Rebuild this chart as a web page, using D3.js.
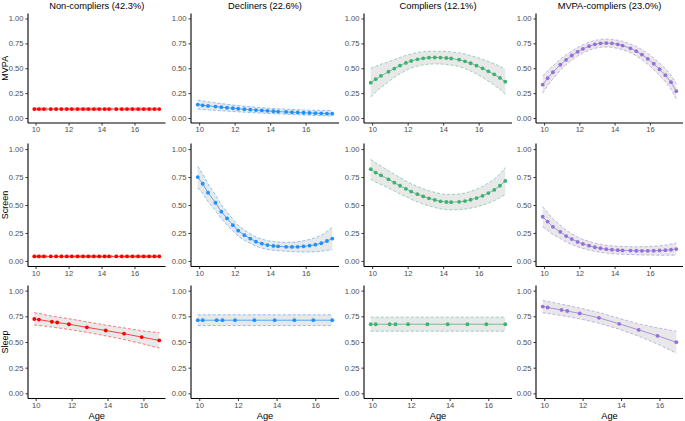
<!DOCTYPE html>
<html><head><meta charset="utf-8">
<script src="https://cdn.jsdelivr.net/npm/d3@7"></script>
<style>body{margin:0;background:#fff;} svg{display:block;font-family:"Liberation Sans",Arial,sans-serif;}</style>
</head><body><svg id="chart" width="685" height="421"></svg>
<script>
const groups = ["Non-compliers (42.3%)", "Decliners (22.6%)", "Compliers (12.1%)", "MVPA-compliers (23.0%)"];
const outcomes = ["MVPA", "Screen", "Sleep"];
const colors = ["#FF0000", "#1E90FF", "#3CB371", "#9370DB"];
const yTicks = [0, 0.25, 0.5, 0.75, 1];
const xTicks = [10, 12, 14, 16];

const agesDense = [9.92,10.2,10.5,10.92,11.25,11.57,11.9,12.2,12.55,12.88,13.2,13.53,13.85,14.18,14.45,14.9,15.23,15.55,15.88,16.22,16.55,16.88,17.2,17.5];
const agesSleep = [9.92,10.18,10.9,11.2,11.85,12.85,13.9,14.92,15.9,16.88];

// MVPA
const nonMVPA   = [0.09,0.09,0.09,0.09,0.09,0.09,0.09,0.09,0.09,0.09,0.09,0.09,0.09,0.09,0.09,0.09,0.09,0.09,0.09,0.09,0.09,0.09,0.09,0.09];
const nonMVPALo = [0.08,0.08,0.08,0.08,0.08,0.08,0.08,0.08,0.08,0.08,0.08,0.08,0.08,0.08,0.08,0.08,0.08,0.08,0.08,0.08,0.08,0.08,0.08,0.08];
const nonMVPAHi = [0.10,0.10,0.10,0.10,0.10,0.10,0.10,0.10,0.10,0.10,0.10,0.10,0.10,0.10,0.10,0.10,0.10,0.10,0.10,0.10,0.10,0.10,0.10,0.10];
const decMVPA   = [0.135,0.128,0.122,0.115,0.109,0.103,0.098,0.093,0.088,0.084,0.080,0.076,0.072,0.068,0.065,0.061,0.058,0.056,0.053,0.051,0.049,0.047,0.045,0.044];
const decMVPALo = [0.09,0.086,0.082,0.077,0.073,0.069,0.065,0.062,0.058,0.055,0.052,0.049,0.046,0.043,0.041,0.038,0.035,0.033,0.031,0.028,0.026,0.024,0.022,0.02];
const decMVPAHi = [0.18,0.171,0.163,0.153,0.145,0.138,0.131,0.125,0.119,0.114,0.109,0.104,0.1,0.096,0.093,0.089,0.086,0.084,0.081,0.079,0.078,0.076,0.075,0.075];
const comMVPA   = [0.355,0.39,0.424,0.465,0.497,0.527,0.553,0.573,0.59,0.6,0.606,0.608,0.607,0.603,0.598,0.586,0.57,0.55,0.526,0.499,0.469,0.438,0.403,0.365];
const comMVPALo = [0.21,0.26,0.307,0.365,0.407,0.445,0.477,0.502,0.522,0.534,0.541,0.544,0.543,0.538,0.532,0.517,0.497,0.472,0.442,0.408,0.37,0.331,0.287,0.24];
const comMVPAHi = [0.5,0.52,0.541,0.565,0.587,0.609,0.629,0.644,0.658,0.666,0.671,0.672,0.671,0.668,0.664,0.655,0.643,0.628,0.61,0.59,0.568,0.545,0.519,0.49];
const mvcMVPA   = [0.335,0.40,0.46,0.535,0.585,0.628,0.665,0.695,0.722,0.74,0.75,0.753,0.75,0.74,0.728,0.7,0.672,0.637,0.595,0.545,0.49,0.43,0.36,0.27];
const mvcMVPALo = [0.25,0.325,0.394,0.479,0.535,0.582,0.622,0.654,0.682,0.70,0.71,0.713,0.71,0.699,0.686,0.656,0.625,0.587,0.541,0.487,0.428,0.364,0.289,0.193];
const mvcMVPAHi = [0.42,0.475,0.526,0.591,0.635,0.674,0.708,0.736,0.762,0.78,0.79,0.793,0.79,0.781,0.77,0.744,0.719,0.687,0.649,0.603,0.552,0.496,0.431,0.347];

// Screen
const nonScreen   = [0.04,0.04,0.04,0.04,0.04,0.04,0.04,0.04,0.04,0.04,0.04,0.04,0.04,0.04,0.04,0.04,0.04,0.04,0.04,0.04,0.04,0.04,0.04,0.04];
const nonScreenLo = [0.033,0.033,0.033,0.033,0.033,0.033,0.033,0.033,0.033,0.033,0.033,0.033,0.033,0.033,0.033,0.033,0.033,0.033,0.033,0.033,0.033,0.033,0.033,0.033];
const nonScreenHi = [0.047,0.047,0.047,0.047,0.047,0.047,0.047,0.047,0.047,0.047,0.047,0.047,0.047,0.047,0.047,0.047,0.047,0.047,0.047,0.047,0.047,0.047,0.047,0.047];
const decScreen   = [0.75,0.69,0.61,0.52,0.44,0.38,0.32,0.27,0.23,0.20,0.172,0.155,0.142,0.134,0.13,0.126,0.125,0.126,0.13,0.136,0.145,0.158,0.178,0.20];
const decScreenLo = [0.655,0.602,0.53,0.45,0.377,0.322,0.267,0.221,0.184,0.157,0.131,0.115,0.103,0.095,0.091,0.086,0.083,0.081,0.08,0.08,0.082,0.086,0.093,0.10];
const decScreenHi = [0.845,0.778,0.69,0.59,0.503,0.438,0.373,0.319,0.276,0.243,0.213,0.195,0.181,0.173,0.169,0.166,0.167,0.171,0.18,0.192,0.208,0.23,0.263,0.30];
const comScreen   = [0.82,0.79,0.765,0.73,0.70,0.672,0.645,0.62,0.597,0.577,0.56,0.545,0.533,0.527,0.525,0.528,0.535,0.547,0.562,0.582,0.607,0.635,0.672,0.715];
const comScreenLo = [0.73,0.704,0.683,0.652,0.625,0.599,0.574,0.55,0.528,0.509,0.492,0.477,0.465,0.459,0.456,0.458,0.463,0.472,0.483,0.498,0.517,0.538,0.566,0.595];
const comScreenHi = [0.91,0.876,0.847,0.808,0.775,0.745,0.716,0.69,0.666,0.645,0.628,0.613,0.601,0.595,0.594,0.598,0.607,0.622,0.641,0.666,0.697,0.732,0.778,0.835];
const mvcScreen   = [0.395,0.352,0.305,0.26,0.222,0.195,0.17,0.152,0.136,0.122,0.113,0.105,0.1,0.096,0.094,0.092,0.091,0.09,0.09,0.091,0.093,0.096,0.1,0.106];
const mvcScreenLo = [0.305,0.272,0.235,0.2,0.169,0.147,0.126,0.111,0.097,0.085,0.077,0.07,0.065,0.061,0.059,0.057,0.055,0.053,0.052,0.051,0.051,0.051,0.05,0.051];
const mvcScreenHi = [0.485,0.432,0.375,0.32,0.275,0.243,0.214,0.193,0.175,0.159,0.149,0.14,0.135,0.131,0.129,0.127,0.127,0.127,0.128,0.131,0.135,0.141,0.15,0.161];

// Sleep
const nonSleep   = [0.724,0.718,0.697,0.69,0.673,0.643,0.612,0.581,0.548,0.515];
const nonSleepLo = [0.666,0.661,0.645,0.638,0.622,0.594,0.56,0.524,0.485,0.44];
const nonSleepHi = [0.786,0.778,0.752,0.745,0.727,0.696,0.665,0.637,0.61,0.59];
const decSleep   = [0.712,0.712,0.712,0.712,0.712,0.712,0.712,0.712,0.712,0.712];
const decSleepLo = [0.66,0.66,0.66,0.66,0.66,0.66,0.66,0.66,0.66,0.66];
const decSleepHi = [0.765,0.765,0.765,0.765,0.765,0.765,0.765,0.765,0.765,0.765];
const comSleep   = [0.673,0.673,0.673,0.673,0.673,0.673,0.673,0.673,0.673,0.673];
const comSleepLo = [0.605,0.605,0.605,0.605,0.605,0.605,0.605,0.605,0.605,0.605];
const comSleepHi = [0.742,0.742,0.742,0.742,0.742,0.742,0.742,0.742,0.742,0.742];
const mvcSleep   = [0.845,0.836,0.812,0.802,0.778,0.735,0.677,0.618,0.56,0.498];
const mvcSleepLo = [0.785,0.778,0.757,0.748,0.725,0.683,0.624,0.557,0.48,0.39];
const mvcSleepHi = [0.905,0.895,0.868,0.857,0.831,0.788,0.731,0.676,0.638,0.605];

const series = [
  [[nonMVPA,nonMVPALo,nonMVPAHi],[decMVPA,decMVPALo,decMVPAHi],[comMVPA,comMVPALo,comMVPAHi],[mvcMVPA,mvcMVPALo,mvcMVPAHi]],
  [[nonScreen,nonScreenLo,nonScreenHi],[decScreen,decScreenLo,decScreenHi],[comScreen,comScreenLo,comScreenHi],[mvcScreen,mvcScreenLo,mvcScreenHi]],
  [[nonSleep,nonSleepLo,nonSleepHi],[decSleep,decSleepLo,decSleepHi],[comSleep,comSleepLo,comSleepHi],[mvcSleep,mvcSleepLo,mvcSleepHi]]
];
const rowAges = [agesDense, agesDense, agesSleep];

// layout
const colL = [28, 191, 364, 536], colR = [165.5, 339, 512, 683];
const rowT = [13.5, 143.5, 285.5], rowB = [123, 266.5, 398.5];

const svg = d3.select("#chart");

outcomes.forEach((outc, r) => {
  groups.forEach((g, c) => {
    const ages = rowAges[r];
    const [est, lo, hi] = series[r][c];
    const ext = d3.extent(ages), pad = (ext[1]-ext[0])*0.05;
    const x = d3.scaleLinear().domain([ext[0]-pad, ext[1]+pad]).range([colL[c], colR[c]]);
    const y = d3.scaleLinear().domain([-0.05, 1.05]).range([rowB[r], rowT[r]]);
    const pts = ages.map((a, i) => ({a, e: est[i], l: lo[i], h: hi[i]}));
    const col = colors[c];
    const gp = svg.append("g");

    gp.append("path").datum(pts)
      .attr("d", d3.area().x(d => x(d.a)).y0(d => y(d.l)).y1(d => y(d.h)))
      .attr("fill", "#E8E8E8");
    ["l","h"].forEach(k => {
      gp.append("path").datum(pts)
        .attr("d", d3.line().x(d => x(d.a)).y(d => y(d[k])))
        .attr("fill", "none").attr("stroke", col).attr("stroke-opacity", 0.5)
        .attr("stroke-width", 1).attr("stroke-dasharray", "3,2");
    });
    gp.append("path").datum(pts)
      .attr("d", d3.line().x(d => x(d.a)).y(d => y(d.e)))
      .attr("fill", "none").attr("stroke", col).attr("stroke-width", 0.9).attr("stroke-opacity", 0.8);
    gp.selectAll("circle").data(pts).join("circle")
      .attr("cx", d => x(d.a)).attr("cy", d => y(d.e)).attr("r", 1.9).attr("fill", col);

    // axes
    const ya = gp.append("g").attr("transform", `translate(${colL[c]},0)`)
      .call(d3.axisLeft(y).tickValues(yTicks).tickFormat(d3.format(".2f")).tickSize(2.5).tickPadding(2));
    const xa = gp.append("g").attr("transform", `translate(0,${rowB[r]})`)
      .call(d3.axisBottom(x).tickValues(xTicks).tickSize(2.5).tickPadding(1.5));
    [ya, xa].forEach(a => {
      a.select(".domain").attr("stroke", "#000").attr("stroke-width", 1.1);
      a.selectAll(".tick line").attr("stroke", "#333");
      a.selectAll(".tick text").attr("fill", "#4D4D4D").style("font-size", "7.6px").style("font-family", "Liberation Sans, Arial, sans-serif");
    });
    ya.select(".domain").attr("d", `M0,${rowT[r]}V${rowB[r]}`);
    xa.select(".domain").attr("d", `M${colL[c]},0H${colR[c]}`);

    if (r === 0) {
      svg.append("text").attr("x", (colL[c]+colR[c])/2).attr("y", 9)
        .attr("text-anchor", "middle").style("font-size", "9.3px").attr("fill", "#000").text(g);
    }
    if (r === 2) {
      svg.append("text").attr("x", (colL[c]+colR[c])/2).attr("y", 419)
        .attr("text-anchor", "middle").style("font-size", "9.3px").attr("fill", "#000").text("Age");
    }
    if (c === 0) {
      const cy = (rowT[r]+rowB[r])/2;
      svg.append("text").attr("transform", `translate(7.6,${cy}) rotate(-90)`)
        .attr("text-anchor", "middle").style("font-size", "9px").attr("fill", "#000").text(outc);
    }
  });
});
</script></body></html>
